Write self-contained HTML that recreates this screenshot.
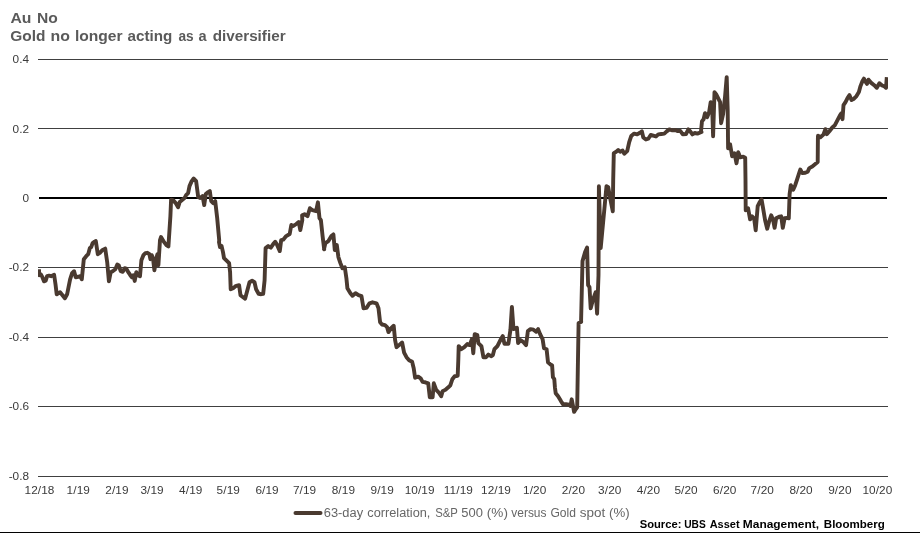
<!DOCTYPE html>
<html>
<head>
<meta charset="utf-8">
<title>Au No</title>
<style>
html, body { margin: 0; padding: 0; background: #fff; }
body { width: 920px; height: 533px; overflow: hidden; position: relative; font-family: "Liberation Sans", sans-serif; }
svg { position: absolute; left: 0; top: 0; display: block; will-change: transform; opacity: 0.999; }
text { font-family: "Liberation Sans", sans-serif; }
.title { font-size: 14.6px; font-weight: bold; fill: #5a5a5a; }
.yl { font-size: 11.8px; fill: #3a3a3a; }
.xl { font-size: 11.8px; fill: #3a3a3a; letter-spacing: 0.1px; }
.lg { font-size: 12.3px; fill: #666; }
.src { font-size: 11.5px; font-weight: bold; fill: #000; }
</style>
</head>
<body>
<svg width="920" height="533" viewBox="0 0 920 533">
<rect x="0" y="0" width="920" height="533" fill="#ffffff"/>
<text x="10.4" y="22.8" class="title" textLength="21.0" lengthAdjust="spacingAndGlyphs">Au</text>
<text x="37.0" y="22.8" class="title" textLength="20.8" lengthAdjust="spacingAndGlyphs">No</text>
<text x="10.2" y="40.8" class="title" textLength="35.2" lengthAdjust="spacingAndGlyphs">Gold</text>
<text x="50.5" y="40.8" class="title" textLength="19.4" lengthAdjust="spacingAndGlyphs">no</text>
<text x="74.9" y="40.8" class="title" textLength="47.7" lengthAdjust="spacingAndGlyphs">longer</text>
<text x="127.5" y="40.8" class="title" textLength="44.7" lengthAdjust="spacingAndGlyphs">acting</text>
<text x="178.5" y="40.8" class="title" textLength="15.2" lengthAdjust="spacingAndGlyphs">as</text>
<text x="198.4" y="40.8" class="title" textLength="8.1" lengthAdjust="spacingAndGlyphs">a</text>
<text x="212.7" y="40.8" class="title" textLength="72.9" lengthAdjust="spacingAndGlyphs">diversifier</text>
<line x1="38" y1="59.5" x2="888" y2="59.5" stroke="#404040" stroke-width="1"/>
<line x1="38" y1="128.5" x2="888" y2="128.5" stroke="#404040" stroke-width="1"/>
<line x1="39" y1="198" x2="887" y2="198" stroke="#000" stroke-width="2"/>
<line x1="38" y1="267.5" x2="888" y2="267.5" stroke="#404040" stroke-width="1"/>
<line x1="38" y1="337.5" x2="888" y2="337.5" stroke="#404040" stroke-width="1"/>
<line x1="38" y1="406.5" x2="888" y2="406.5" stroke="#404040" stroke-width="1"/>
<line x1="38" y1="476.5" x2="888" y2="476.5" stroke="#404040" stroke-width="1"/>

<text x="29.0" y="63.1" text-anchor="end" class="yl">0.4</text>
<text x="29.0" y="133.1" text-anchor="end" class="yl">0.2</text>
<text x="29.0" y="202.0" text-anchor="end" class="yl">0</text>
<text x="29.0" y="271.1" text-anchor="end" class="yl">-0.2</text>
<text x="29.0" y="341.1" text-anchor="end" class="yl">-0.4</text>
<text x="29.0" y="410.1" text-anchor="end" class="yl">-0.6</text>
<text x="29.0" y="480.1" text-anchor="end" class="yl">-0.8</text>

<text x="39.5" y="494.1" text-anchor="middle" class="xl">12/18</text>
<text x="78.3" y="494.1" text-anchor="middle" class="xl">1/19</text>
<text x="117.0" y="494.1" text-anchor="middle" class="xl">2/19</text>
<text x="152.1" y="494.1" text-anchor="middle" class="xl">3/19</text>
<text x="190.8" y="494.1" text-anchor="middle" class="xl">4/19</text>
<text x="228.3" y="494.1" text-anchor="middle" class="xl">5/19</text>
<text x="267.1" y="494.1" text-anchor="middle" class="xl">6/19</text>
<text x="304.6" y="494.1" text-anchor="middle" class="xl">7/19</text>
<text x="343.4" y="494.1" text-anchor="middle" class="xl">8/19</text>
<text x="382.2" y="494.1" text-anchor="middle" class="xl">9/19</text>
<text x="419.7" y="494.1" text-anchor="middle" class="xl">10/19</text>
<text x="458.4" y="494.1" text-anchor="middle" class="xl">11/19</text>
<text x="496.0" y="494.1" text-anchor="middle" class="xl">12/19</text>
<text x="534.7" y="494.1" text-anchor="middle" class="xl">1/20</text>
<text x="573.5" y="494.1" text-anchor="middle" class="xl">2/20</text>
<text x="609.8" y="494.1" text-anchor="middle" class="xl">3/20</text>
<text x="648.5" y="494.1" text-anchor="middle" class="xl">4/20</text>
<text x="686.1" y="494.1" text-anchor="middle" class="xl">5/20</text>
<text x="724.8" y="494.1" text-anchor="middle" class="xl">6/20</text>
<text x="762.3" y="494.1" text-anchor="middle" class="xl">7/20</text>
<text x="801.1" y="494.1" text-anchor="middle" class="xl">8/20</text>
<text x="839.9" y="494.1" text-anchor="middle" class="xl">9/20</text>
<text x="877.4" y="494.1" text-anchor="middle" class="xl">10/20</text>

<clipPath id="plot"><rect x="38" y="50" width="850" height="430"/></clipPath>
<polyline clip-path="url(#plot)" points="39.0,269.2 39.2,275.2 41.0,274.6 42.4,277.2 44.0,281.3 45.7,280.7 47.1,276.2 49.1,275.6 51.1,276.2 54.1,274.8 55.5,284.3 56.7,294.3 60.1,292.3 62.1,294.7 64.9,298.3 67.1,294.3 68.5,287.3 70.1,279.3 72.1,273.2 74.1,271.2 75.7,277.2 78.2,276.8 80.2,276.2 81.8,279.3 83.8,259.2 86.2,256.2 88.2,254.2 89.8,248.2 91.2,247.2 92.6,243.1 94.6,241.7 95.8,241.1 97.8,254.2 100.2,252.6 102.2,250.2 105.2,248.6 107.2,262.2 108.9,281.3 110.7,272.2 112.7,271.2 115.3,269.2 117.3,264.6 118.7,265.2 120.7,271.2 122.7,271.8 124.7,268.2 126.3,268.6 128.3,272.2 130.3,275.2 131.9,277.2 133.3,275.2 134.7,280.9 136.3,272.2 137.9,275.2 140.0,276.2 141.4,260.2 143.4,255.2 145.4,253.2 147.4,252.8 149.4,254.2 150.4,259.2 151.8,255.2 153.0,258.2 154.4,270.2 156.4,258.2 157.4,254.2 158.4,265.2 160.0,240.1 161.0,237.1 163.4,241.1 166.4,245.1 168.4,246.5 170.4,216.1 171.1,199.7 173.1,200.1 175.7,203.1 178.1,207.2 179.7,202.1 182.1,200.1 184.5,198.1 186.1,195.1 188.1,193.1 189.5,186.1 191.7,181.1 193.7,178.5 196.1,181.1 198.2,197.1 200.2,198.1 202.6,196.1 204.2,205.1 205.8,194.1 208.2,192.1 209.8,191.1 211.2,201.1 213.2,203.1 215.2,201.1 217.2,218.2 219.2,240.3 219.0,242.1 220.0,247.1 221.6,246.1 223.0,252.1 224.0,258.1 227.1,261.1 229.1,263.1 230.1,272.2 230.7,289.2 233.1,288.2 236.1,285.8 239.1,285.2 240.5,295.2 243.1,297.2 245.1,298.7 247.1,291.2 249.5,282.2 252.1,280.8 254.5,282.2 256.1,289.2 258.6,293.8 261.2,294.2 263.2,293.8 264.6,280.2 265.6,248.1 268.2,246.1 270.8,247.7 273.2,244.1 275.2,241.7 277.2,245.1 279.8,251.1 281.2,240.1 283.2,239.7 286.2,236.1 289.7,234.0 291.3,225.0 293.3,226.0 296.3,224.0 298.7,222.0 300.3,230.0 302.3,220.0 302.1,215.2 304.5,214.2 307.5,216.2 309.9,208.2 312.5,210.2 316.1,211.2 317.9,202.3 319.5,218.2 320.9,220.2 322.6,236.2 324.2,249.3 324.0,249.1 325.4,243.1 328.4,241.1 331.4,236.1 333.4,234.4 334.8,250.1 336.8,245.1 338.4,257.1 340.4,263.1 342.4,268.2 344.8,267.2 346.4,278.2 347.4,288.2 350.4,293.2 352.5,295.8 355.5,293.2 358.5,295.2 361.5,296.2 363.5,308.3 366.5,307.9 369.5,303.3 372.5,302.3 376.5,303.3 378.5,308.3 380.1,322.3 382.0,324.5 385.0,325.1 387.1,327.1 388.5,332.1 391.1,328.1 393.7,325.7 395.1,340.1 396.5,347.2 399.1,345.1 402.1,342.5 404.1,352.6 406.5,357.2 409.1,360.2 412.1,361.8 413.7,368.2 415.1,377.8 418.2,376.6 420.6,378.3 422.6,381.9 425.2,382.3 428.2,383.3 429.8,397.3 432.6,397.3 433.8,383.3 436.2,389.9 438.6,392.3 441.2,396.3 442.6,391.3 445.2,389.9 448.3,387.3 450.3,385.3 452.3,379.3 454.7,376.2 457.7,375.8 458.3,360.2 458.7,346.1 461.3,349.2 464.3,347.2 467.3,344.1 469.7,345.1 471.9,339.1 473.3,353.2 474.7,334.1 477.3,335.1 478.3,343.1 481.4,346.1 483.4,357.2 486.0,357.2 488.4,354.6 491.4,356.2 492.8,355.2 494.4,349.2 497.4,346.1 500.4,340.1 502.8,336.1 504.4,343.7 508.4,343.7 510.4,330.1 511.9,307.0 513.5,329.1 515.5,328.5 516.9,327.7 518.1,343.1 520.5,340.1 523.5,342.1 526.1,345.1 527.9,331.1 530.5,329.1 533.5,329.7 536.1,331.7 538.1,329.1 540.1,334.1 542.6,339.1 544.0,348.2 546.6,349.2 548.0,362.2 550.6,364.6 552.1,365.2 552.9,377.2 554.3,379.2 554.9,387.2 555.7,393.3 558.1,396.3 561.1,401.3 563.1,404.3 566.1,404.3 569.1,404.7 570.5,405.9 571.7,399.3 573.1,406.3 574.1,411.9 575.7,409.3 577.2,407.3 577.8,370.2 578.6,323.0 581.2,322.0 581.1,320.3 582.5,261.1 585.1,252.1 587.1,247.5 588.1,285.2 589.5,287.2 590.7,308.3 593.1,299.3 595.7,292.2 597.1,313.7 598.5,275.2 598.9,186.2 600.7,248.1 606.5,186.2 608.2,187.2 610.2,198.3 612.8,211.3 613.2,180.2 613.8,153.1 616.2,151.7 618.2,150.1 620.2,151.7 622.6,150.5 624.2,153.7 627.2,151.1 629.2,142.1 631.2,136.1 634.2,133.6 637.2,134.4 639.9,132.8 641.9,131.4 643.3,137.5 645.9,139.5 648.3,138.7 650.7,135.0 653.3,135.7 655.9,136.5 658.3,134.4 661.3,134.0 664.3,133.6 666.7,131.4 669.3,129.4 672.4,130.4 675.4,130.0 677.4,131.0 680.4,131.0 682.8,134.4 686.0,134.0 688.4,129.4 690.4,131.6 692.4,134.4 694.8,133.0 697.4,133.6 701.5,132.0 701.0,131.2 702.0,121.2 703.6,119.2 705.0,113.2 707.1,117.2 709.1,112.2 710.7,102.1 712.1,105.1 713.1,136.2 714.5,92.1 716.1,94.1 718.1,98.1 720.1,102.1 721.1,123.2 723.1,114.2 725.1,96.1 726.7,77.1 727.7,110.2 728.1,148.3 730.1,144.3 732.1,156.3 734.5,153.3 736.5,163.3 738.2,152.3 740.2,157.3 743.2,156.7 745.2,157.7 745.5,180.2 745.7,210.3 748.1,208.3 750.1,219.3 752.1,216.3 754.1,218.3 755.7,230.3 757.7,206.2 759.7,202.2 761.5,199.2 763.1,208.3 765.1,220.3 767.2,228.7 769.2,221.3 771.2,215.3 773.2,220.3 774.6,227.9 776.2,218.3 779.2,216.7 781.2,216.3 782.8,227.9 784.6,218.3 787.2,217.9 788.8,218.3 789.6,194.2 790.8,185.2 793.2,189.8 795.2,185.2 797.2,179.2 799.3,172.5 800.3,169.5 802.3,173.1 805.3,172.7 807.7,171.7 809.3,168.1 812.3,166.5 815.3,164.1 817.7,162.1 817.9,138.0 818.0,135.8 820.4,137.2 823.4,134.6 825.4,129.2 826.8,134.2 829.4,131.2 832.5,127.2 834.9,125.2 837.5,120.2 840.1,115.2 841.5,113.2 842.5,119.2 843.5,105.1 845.5,102.1 847.5,98.1 849.5,95.1 851.5,100.1 853.5,99.1 856.5,96.1 858.9,92.1 860.5,86.1 862.4,81.3 863.9,78.6 865.6,81.9 867.0,83.9 868.5,79.7 870.9,82.6 874.2,85.2 876.8,87.8 879.4,83.2 882.1,85.5 884.7,86.5 886.0,87.8 886.8,77.1" fill="none" stroke="#4a3a30" stroke-width="3.9" stroke-linejoin="round" stroke-linecap="butt"/>
<line x1="295.5" y1="513" x2="320.5" y2="513" stroke="#4a3a30" stroke-width="4" stroke-linecap="round"/>
<text x="323.8" y="517" class="lg" textLength="39.3" lengthAdjust="spacingAndGlyphs">63-day</text>
<text x="367.3" y="517" class="lg" textLength="63.1" lengthAdjust="spacingAndGlyphs">correlation,</text>
<text x="435.2" y="517" class="lg" textLength="22.7" lengthAdjust="spacingAndGlyphs">S&amp;P</text>
<text x="461.3" y="517" class="lg" textLength="21.6" lengthAdjust="spacingAndGlyphs">500</text>
<text x="486.8" y="517" class="lg" textLength="21.1" lengthAdjust="spacingAndGlyphs">(%)</text>
<text x="511.3" y="517" class="lg" textLength="35.2" lengthAdjust="spacingAndGlyphs">versus</text>
<text x="550.4" y="517" class="lg" textLength="25.5" lengthAdjust="spacingAndGlyphs">Gold</text>
<text x="579.7" y="517" class="lg" textLength="25.5" lengthAdjust="spacingAndGlyphs">spot</text>
<text x="609.1" y="517" class="lg" textLength="20.6" lengthAdjust="spacingAndGlyphs">(%)</text>
<text x="639.7" y="527.9" class="src" textLength="41.7" lengthAdjust="spacingAndGlyphs">Source:</text>
<text x="684.2" y="527.9" class="src" textLength="21.5" lengthAdjust="spacingAndGlyphs">UBS</text>
<text x="709.7" y="527.9" class="src" textLength="29.9" lengthAdjust="spacingAndGlyphs">Asset</text>
<text x="742.8" y="527.9" class="src" textLength="76.3" lengthAdjust="spacingAndGlyphs">Management,</text>
<text x="823.8" y="527.9" class="src" textLength="61.0" lengthAdjust="spacingAndGlyphs">Bloomberg</text>
<rect x="0" y="532" width="920" height="1" fill="#000"/>
</svg>
</body>
</html>
